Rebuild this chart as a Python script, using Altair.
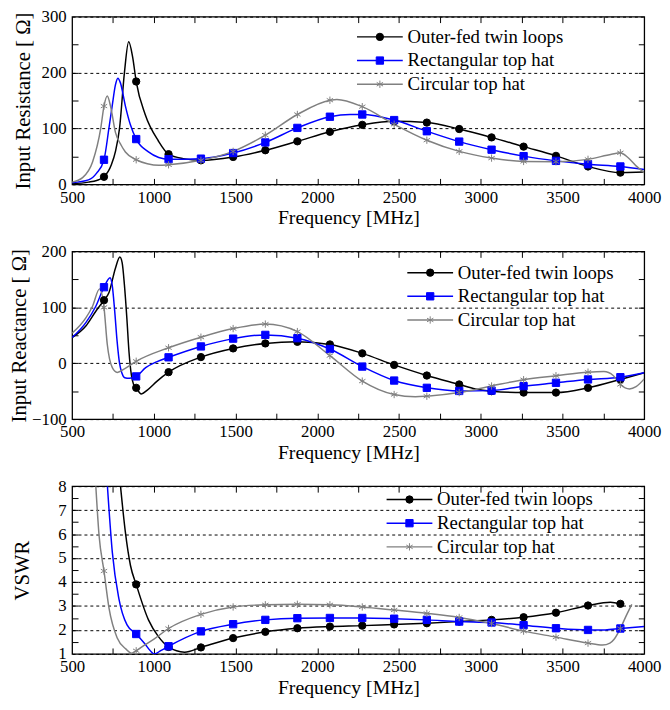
import altair as alt
import pandas as pd

SERIES = ["Outer-fed twin loops", "Rectangular top hat", "Circular top hat"]
COLORS = ["#000000", "#0000ff", "#808080"]
ASTERISK = "M0,-1L0,1M-0.866,-0.5L0.866,0.5M-0.866,0.5L0.866,-0.5"
SHAPES = ["circle", "square", ASTERISK]
LEGEND_LINE = "M-5.8,0H5.8"

MARKER_F = [695, 892, 1090, 1288, 1485, 1682, 1878, 2077, 2275, 2470,
            2670, 2868, 3066, 3262, 3460, 3656, 3854]

# ---- Input resistance ----
RES_BLACK = [(500, 1), (600, 4), (650, 7), (695, 13.5), (740, 35), (766, 60), (790, 100),
             (820, 200), (846, 255), (870, 228), (892, 184), (947, 125), (1027, 78),
             (1090, 54), (1180, 46), (1288, 43), (1485, 49), (1682, 61), (1878, 77),
             (2077, 94), (2275, 106.5), (2470, 113), (2670, 110.5), (2868, 99), (3066, 84),
             (3262, 67.5), (3460, 51), (3656, 32), (3854, 21), (3950, 21.5), (4000, 22)]
RES_BLUE = [(500, 3), (600, 8), (650, 20), (695, 44), (725, 100), (745, 140), (765, 178),
            (780, 190), (795, 182), (826, 140), (856, 107), (892, 81), (967, 58), (1030, 48),
            (1090, 45), (1288, 46), (1485, 56), (1682, 75), (1878, 101), (2077, 121),
            (2200, 125), (2275, 125), (2470, 115), (2670, 95), (2868, 76.5), (3066, 62),
            (3262, 50.5), (3460, 42), (3656, 36), (3854, 32), (4000, 26.5)]
RES_GRAY = [(500, 4), (564, 12), (625, 40), (675, 100), (695, 140), (715, 158), (735, 140),
            (765, 93), (800, 70), (826, 58), (892, 44), (960, 37), (1030, 34), (1090, 35),
            (1288, 43), (1485, 59), (1682, 88), (1878, 125), (2077, 150.5), (2120, 152),
            (2275, 139), (2470, 107.5), (2670, 79), (2868, 59), (3066, 47), (3262, 41),
            (3460, 40.5), (3656, 44.7), (3800, 54), (3854, 56.5), (3900, 48), (3950, 33),
            (4000, 21)]

# ---- Input reactance ----
REA_BLACK = [(500, 46), (584, 66.7), (645, 93), (695, 112.7), (725, 126), (765, 170),
             (792, 190), (806, 180), (820, 140), (835, 80), (848, 20), (862, -20), (876, -38),
             (892, -44), (923, -55), (960, -48), (1020, -32), (1090, -16), (1288, 11),
             (1485, 26.5), (1682, 35.4), (1878, 38.3), (2077, 33.6), (2275, 17.7), (2470, -3),
             (2670, -22), (2868, -38), (2967, -46), (3066, -50), (3262, -52.5), (3460, -52.5),
             (3656, -44), (3854, -29), (4000, -17)]
REA_BLUE = [(500, 46), (584, 72.6), (645, 102), (695, 136), (732, 153), (745, 140), (760, 95),
            (775, 40), (790, 0), (805, -18), (822, -26), (850, -27), (892, -23.6), (950, -8),
            (1020, 3), (1090, 10.6), (1288, 30), (1485, 44), (1682, 50.7), (1878, 44.8),
            (2077, 25.4), (2275, -6), (2470, -31), (2670, -44), (2868, -49.6), (3066, -49),
            (3262, -41), (3460, -35), (3656, -29), (3854, -25), (4000, -17)]
REA_GRAY = [(500, 53.7), (584, 81), (625, 102), (668, 133), (695, 100), (715, 34), (746, -8),
            (776, -16.5), (820, -10), (892, 3.5), (1090, 27.7), (1288, 46.6), (1485, 62),
            (1682, 70), (1878, 56.6), (2077, 13.6), (2275, -32), (2470, -56), (2600, -60),
            (2670, -59), (2868, -52.5), (3066, -40.7), (3262, -29.5), (3460, -22.4),
            (3656, -16), (3753, -15), (3810, -22), (3854, -38), (3910, -46), (3950, -42),
            (4000, -28)]

# ---- VSWR ----
VSW_BLACK = [(796, 8.0), (826, 6.07), (857, 4.69), (892, 3.9), (967, 2.42), (1027, 1.73),
             (1090, 1.29), (1188, 1.07), (1288, 1.27), (1485, 1.66), (1682, 1.92),
             (1878, 2.07), (2077, 2.14), (2275, 2.18), (2470, 2.23), (2670, 2.28),
             (2868, 2.35), (3066, 2.42), (3262, 2.53), (3460, 2.72), (3656, 3.02),
             (3793, 3.16), (3854, 3.09)]
VSW_BLUE = [(716, 8.0), (746, 5.24), (786, 3.31), (836, 2.21), (892, 1.83), (946, 1.41),
            (977, 1.14), (1003, 1.0), (1045, 1.15), (1090, 1.32), (1288, 1.94), (1485, 2.24),
            (1682, 2.42), (1878, 2.49), (2077, 2.5), (2275, 2.5), (2470, 2.47), (2670, 2.42),
            (2868, 2.35), (3066, 2.31), (3262, 2.2), (3460, 2.07), (3656, 2.0), (3760, 2.0),
            (3854, 2.06), (4000, 2.14)]
VSW_GRAY = [(645, 8.0), (665, 5.93), (695, 4.46), (726, 2.9), (776, 1.66), (830, 1.2),
            (865, 1.03), (892, 1.13), (950, 1.4), (1003, 1.63), (1090, 2.06), (1288, 2.65),
            (1485, 2.96), (1682, 3.05), (1878, 3.07), (2077, 3.05), (2275, 2.96), (2470, 2.83),
            (2670, 2.69), (2868, 2.52), (3066, 2.27), (3262, 1.95), (3460, 1.70), (3656, 1.45),
            (3745, 1.37), (3790, 1.45), (3817, 1.62), (3854, 2.06), (3890, 2.6), (3924, 3.07)]

X_LABELS = [500, 1000, 1500, 2000, 2500, 3000, 3500, 4000]
X_TICKS = [750, 1000, 1250, 1500, 1750, 2000, 2250, 2500, 2750, 3000, 3250, 3500, 3750]

FONT = "Liberation Serif"
W, H = 580, 170


def legend_common(lx, ly, size, stroke_w, label_opacity):
    return dict(orient="none", legendX=lx, legendY=ly, title=None, padding=0,
                symbolSize=size, symbolStrokeWidth=stroke_w,
                symbolOffset=13.5, labelOffset=18.5, labelFont=FONT, labelFontSize=19,
                labelColor="black", labelLimit=400, rowPadding=4,
                labelOpacity=label_opacity)


def panel(curves, ydom, ylabels, yticks, ytitle, tpad, lx, ly):
    rows = []
    for s, pts in zip(SERIES, curves):
        for f, v in pts:
            rows.append({"f": f, "v": v, "series": s})
    df = pd.DataFrame(rows)
    mk = df[df["f"].isin(MARKER_F)].reset_index(drop=True).rename(columns={"series": "name"})

    xs = alt.Scale(domain=[500, 4000], nice=False, zero=False)
    ys = alt.Scale(domain=ydom, nice=False, zero=False)

    x_main = alt.X("f:Q", scale=xs, axis=alt.Axis(
        values=X_LABELS, orient="bottom", ticks=False, tickSize=0, domain=False, grid=False,
        format="d", labelPadding=5, labelFlush=False, labelFont=FONT, labelFontSize=17,
        labelColor="black", title="Frequency [MHz]", titlePadding=3, titleFont=FONT,
        titleFontSize=20, titleFontWeight="normal", titleColor="black", titleX=280))
    y_main = alt.Y("v:Q", scale=ys, axis=alt.Axis(
        values=ylabels, orient="left", ticks=False, tickSize=0, domain=False, grid=True,
        gridDash=[3, 3], gridColor="black", gridWidth=1, gridOpacity=1, format="d",
        labelPadding=6, labelFlush=False, labelFont=FONT, labelFontSize=17, labelColor="black",
        title=ytitle, titlePadding=tpad, titleFont=FONT, titleFontSize=21,
        titleFontWeight="normal", titleColor="black"))

    def tick_axis(orient, vals):
        return alt.Axis(orient=orient, values=vals, labels=False, domain=False, grid=False,
                        ticks=True, tickSize=6, tickWidth=1, tickColor="black", offset=-6,
                        title=None)

    lines = alt.Chart(df).mark_line(strokeWidth=1.5, interpolate="monotone", clip=True).encode(
        x=x_main, y=y_main,
        color=alt.Color("series:N", sort=SERIES, scale=alt.Scale(range=COLORS),
                        legend=alt.Legend(symbolType=LEGEND_LINE,
                                          **legend_common(lx, ly, 64, 1.5, 1))),
    )
    leg2 = legend_common(lx, ly, 55, 1, 0)
    pts = alt.Chart(mk).mark_point(filled=True, size=55, strokeWidth=1, opacity=1, clip=True).encode(
        x=alt.X("f:Q", scale=xs, axis=tick_axis("bottom", X_TICKS)),
        y=alt.Y("v:Q", scale=ys, axis=tick_axis("left", yticks)),
        fill=alt.Fill("name:N", scale=alt.Scale(domain=SERIES, range=COLORS),
                      legend=alt.Legend(**leg2)),
        stroke=alt.Stroke("name:N", scale=alt.Scale(domain=SERIES, range=COLORS),
                          legend=alt.Legend(**leg2)),
        shape=alt.Shape("name:N", scale=alt.Scale(domain=SERIES, range=SHAPES),
                        legend=alt.Legend(**leg2)),
    )
    dummy = alt.Chart(mk).mark_point(opacity=0).encode(
        x=alt.X("f:Q", scale=xs, axis=tick_axis("top", X_TICKS)),
        y=alt.Y("v:Q", scale=ys, axis=tick_axis("right", yticks)),
    )
    return alt.layer(lines, pts, dummy).resolve_axis(x="independent", y="independent").properties(
        width=W, height=H)


p1 = panel([RES_BLACK, RES_BLUE, RES_GRAY], [0, 300], [0, 100, 200, 300],
           [50, 100, 150, 200, 250], "Input Resistance [ \u03a9]", 8, 289, 11)
p2 = panel([REA_BLACK, REA_BLUE, REA_GRAY], [-100, 200], [-100, 0, 100, 200],
           [-50, 0, 50, 100, 150], "Input Reactance [ \u03a9]", 2, 340, 12)
p3 = panel([VSW_BLACK, VSW_BLUE, VSW_GRAY], [1, 8], [1, 2, 3, 4, 5, 6, 7, 8],
           [1.5, 2, 2.5, 3, 3.5, 4, 4.5, 5, 5.5, 6, 6.5, 7, 7.5], "VSWR", 26, 319, 4)

chart = alt.vconcat(p1, p2, p3, spacing=13).resolve_scale(
    x="independent", y="independent", color="independent", fill="independent",
    stroke="independent", shape="independent"
).properties(
    padding={"left": 0, "top": -6, "right": 0, "bottom": 0}, background="white"
).configure_view(
    stroke="black", strokeWidth=1.3
).configure_axis(
    labelFont=FONT, labelFontSize=17, labelColor="black",
    titleFont=FONT, titleFontSize=20, titleFontWeight="normal", titleColor="black"
)

chart.save("out.html", embed_options={"renderer": "svg", "actions": False})
